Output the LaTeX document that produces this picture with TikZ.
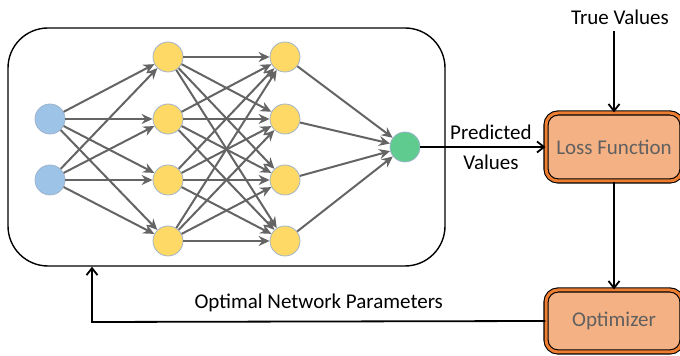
\documentclass[tikz,border=0pt]{standalone}
\usepackage{fontspec}
\setmainfont{Carlito}
\usetikzlibrary{arrows.meta}
\definecolor{inputblue}{HTML}{9DC3E6}
\definecolor{hiddenyellow}{HTML}{FFD966}
\definecolor{outgreen}{HTML}{5FCB8E}
\definecolor{neuronedge}{HTML}{9FB4CC}
\definecolor{linkgray}{HTML}{646464}
\definecolor{boxfill}{HTML}{F4B183}
\definecolor{boxorange}{HTML}{ED7D31}
\definecolor{boxtext}{HTML}{606060}
\begin{document}
\begin{tikzpicture}[x=0.5pt,y=-0.5pt,
	font=\fontsize{10.5}{12}\selectfont,
	neuron/.style={circle, draw=neuronedge, line width=0.4pt, minimum size=15pt, inner sep=0pt},
	link/.style={draw=linkgray, line width=1pt, -{Stealth[length=5.5pt,width=5pt]}},
	flow/.style={draw=black, line width=0.9pt, -{Straight Barb[length=3.5pt,width=5.5pt]}},
	box/.style={draw=black, double=boxorange, double distance=1.5pt, line width=0.55pt, fill=boxfill,
		rounded corners=6pt, minimum width=68pt, minimum height=34pt, text=boxtext, font=\fontsize{10.5}{12}\selectfont}]
	%
	\def\inx{50}
	\def\hax{168}
	\def\hbx{285}
	\useasboundingbox (0,0) rectangle (680,356);
	% network frame
		\node (frame) [draw, line width=0.7pt, rounded corners=20pt, minimum width=218.5pt, minimum height=119pt] at (226.5,147) {};
	% layers
		\foreach \y [count=\i] in {119,180}
			\node (in\i) [neuron, fill=inputblue] at (\inx,\y) {};
		\foreach \y [count=\i] in {57,119,180,241}
			\node (ha\i) [neuron, fill=hiddenyellow] at (\hax,\y) {};
		\foreach \y [count=\i] in {57,119,180,241}
			\node (hb\i) [neuron, fill=hiddenyellow] at (\hbx,\y) {};
		\node (out) [neuron, fill=outgreen] at (405,147) {};
	% connections
		\foreach \i in {1,2}
			\foreach \j in {1,...,4}
				\draw [link] (in\i) -- (ha\j);
		\foreach \i in {1,...,4}
			\foreach \j in {1,...,4}
				\draw [link] (ha\i) -- (hb\j);
		\foreach \i in {1,...,4}
			\draw [link] (hb\i) -- (out);
	% loss and optimizer
		\node (loss) [box] at (614,147) {Loss Function};
		\node (opt) [box, minimum height=31pt] at (614,321) {Optimizer};
		\node (truth) at (620,17) {True Values};
		\coordinate (back) at (92,322);
	% arrows
		\draw [flow] (out) -- (loss) node [midway, above, xshift=4pt] {Predicted} node [midway, below, xshift=4pt] {Values};
		\draw [flow] (loss.north |- truth.south) -- (loss.north);
		\draw [flow] (loss) -- (opt);
		\draw [flow] (opt.west) -- (back) node [pos=0.5, above, yshift=1pt] {Optimal Network Parameters} -- (back |- frame.south);
\end{tikzpicture}
\end{document}
